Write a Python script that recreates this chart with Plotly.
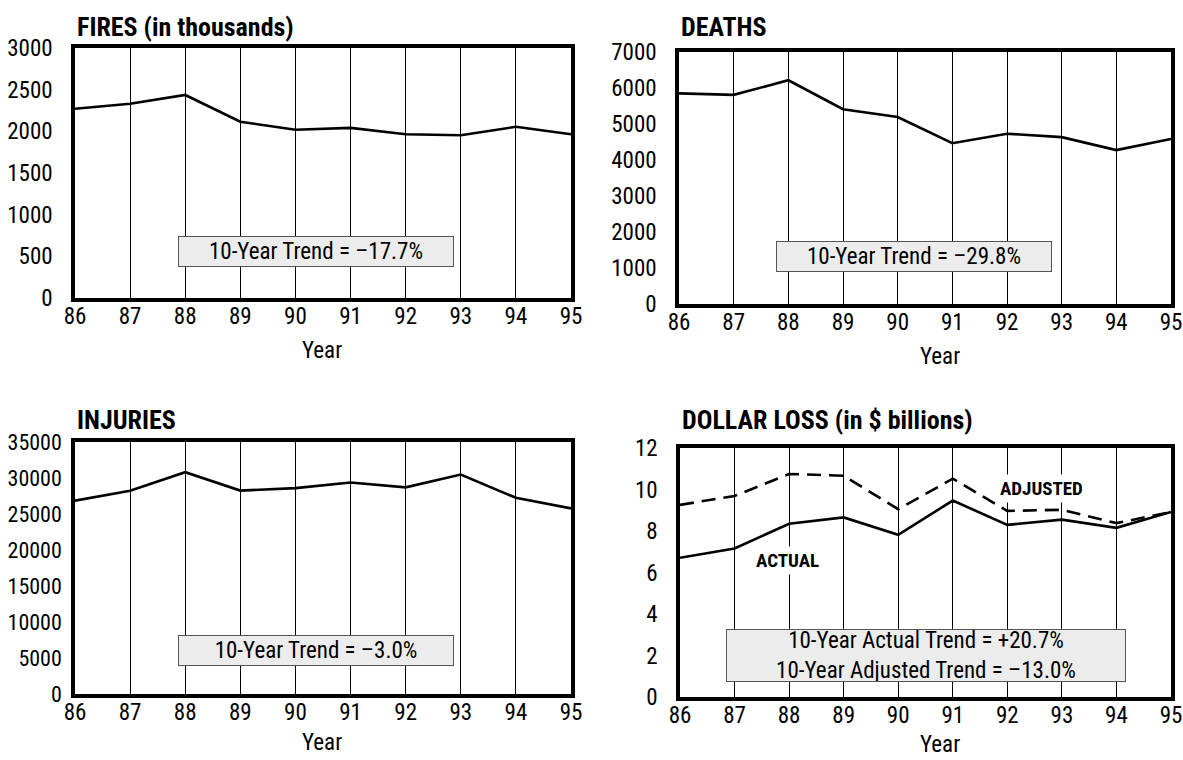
import plotly.graph_objects as go

# ---------------- data ----------------
years = [86, 87, 88, 89, 90, 91, 92, 93, 94, 95]
year_labels = ["86", "87", "88", "89", "90", "91", "92", "93", "94", "95"]

fires = [2271.5, 2330, 2436.5, 2115, 2019, 2041.5, 1964.5, 1952.5, 2054.5, 1965.5]
deaths = [5850, 5810, 6215, 5410, 5195, 4465, 4730, 4635, 4275, 4585]
injuries = [26850, 28215, 30800, 28250, 28600, 29375, 28700, 30475, 27250, 25775]
loss_actual = [6.709, 7.159, 8.352, 8.655, 7.818, 9.467, 8.295, 8.546, 8.151, 8.918]
loss_adjusted = [9.26, 9.69, 10.75, 10.66, 9.05, 10.52, 8.97, 9.02, 8.38, 8.918]

panel_titles = ["FIRES (in thousands)", "DEATHS", "INJURIES", "DOLLAR LOSS (in $ billions)"]
y_ticks = [
    [0, 500, 1000, 1500, 2000, 2500, 3000],
    [0, 1000, 2000, 3000, 4000, 5000, 6000, 7000],
    [0, 5000, 10000, 15000, 20000, 25000, 30000, 35000],
    [0, 2, 4, 6, 8, 10, 12],
]
trend_texts = [
    "10-Year Trend = \u201317.7%",
    "10-Year Trend = \u201329.8%",
    "10-Year Trend = \u20133.0%",
    "10-Year Actual Trend = +20.7%<br>10-Year Adjusted Trend = \u201313.0%",
]

# ---------------- layout geometry (pixels) ----------------
W, H = 1183, 760
FONT = "Liberation Sans Narrow, Arial Narrow, Roboto Condensed, DejaVu Sans Condensed, sans-serif"
# left, right, top, bottom of each plot frame
frames = [(75, 571, 48, 298), (679, 1171, 52, 304), (75, 571, 442, 694), (680, 1171, 448, 697)]
ylabel_standoff = [14, 14, 5, 14]
ylabel_size = [23, 23, 22, 23]
title_y = [27, 27, 420, 420]
year_title_pos = [(322, 351), (940, 356), (322, 742), (940, 744)]
# trend box: center (data coords), size (px)
box_pos = [(90.37, 560), (90.3, 1318), (90.37, 6040), (90.51, 1.98)]
box_size = [(274, 29), (274, 29), (274, 29), (398, 51)]

fig = go.Figure()
series = [[fires], [deaths], [injuries], [loss_actual, loss_adjusted]]
for i, s in enumerate(series):
    ax = "" if i == 0 else str(i + 1)
    for j, vals in enumerate(s):
        fig.add_trace(go.Scatter(
            x=years, y=vals, mode="lines",
            line=dict(color="black", width=2.6, dash="solid" if j == 0 else "14px,8px"),
            xaxis="x" + ax, yaxis="y" + ax, showlegend=False, hoverinfo="skip",
        ))

layout = dict(
    width=W, height=H, margin=dict(l=0, r=0, t=0, b=0),
    paper_bgcolor="white", plot_bgcolor="white",
    font=dict(family=FONT, size=23, color="black"),
    showlegend=False,
)
annotations = []
for i, (l, r, t, b) in enumerate(frames):
    ax = "" if i == 0 else str(i + 1)
    yt = y_ticks[i]
    layout["xaxis" + ax] = dict(
        domain=[l / W, r / W], anchor="y" + ax, range=[years[0], years[-1]],
        tickmode="array", tickvals=years, ticktext=year_labels,
        showgrid=True, gridcolor="black", gridwidth=1, zeroline=False,
        showline=True, linecolor="black", linewidth=3.5, mirror=True,
        ticks="", ticklabelstandoff=-5, tickfont=dict(size=23), automargin=False,
    )
    layout["yaxis" + ax] = dict(
        domain=[1 - b / H, 1 - t / H], anchor="x" + ax, range=[yt[0], yt[-1]],
        tickmode="array", tickvals=yt, ticktext=[str(v) for v in yt],
        showgrid=False, zeroline=False,
        showline=True, linecolor="black", linewidth=3.5, mirror=True,
        ticks="", ticklabelstandoff=ylabel_standoff[i],
        tickfont=dict(size=ylabel_size[i]), automargin=False,
    )
    annotations.append(dict(
        xref="paper", yref="paper", x=l / W, y=1 - title_y[i] / H,
        xanchor="left", yanchor="middle", showarrow=False,
        text="<b>" + panel_titles[i] + "</b>", font=dict(size=26),
    ))
    yx, yy = year_title_pos[i]
    annotations.append(dict(
        xref="paper", yref="paper", x=yx / W, y=1 - yy / H,
        xanchor="center", yanchor="middle", showarrow=False,
        text="Year", font=dict(size=23),
    ))
    bx, by = box_pos[i]
    bw, bh = box_size[i]
    annotations.append(dict(
        xref="x" + ax, yref="y" + ax, x=bx, y=by, xanchor="center", yanchor="middle",
        showarrow=False, text=trend_texts[i], font=dict(size=23),
        bgcolor="#ececec", bordercolor="#555555", borderwidth=1, borderpad=0,
        width=bw, height=bh, align="center", valign="middle",
    ))

annotations.append(dict(
    xref="x4", yref="y4", x=92.63, y=10.05, showarrow=False,
    text="<b>ADJUSTED</b>", font=dict(size=19), bgcolor="white", borderpad=2,
))
annotations.append(dict(
    xref="x4", yref="y4", x=87.97, y=6.59, showarrow=False,
    text="<b>ACTUAL</b>", font=dict(size=19), bgcolor="white", borderpad=2,
))
layout["annotations"] = annotations
fig.update_layout(**layout)
fig.write_html(
    "out.html",
    config={"displayModeBar": False},
    post_script="document.body.style.margin='0';",
)
